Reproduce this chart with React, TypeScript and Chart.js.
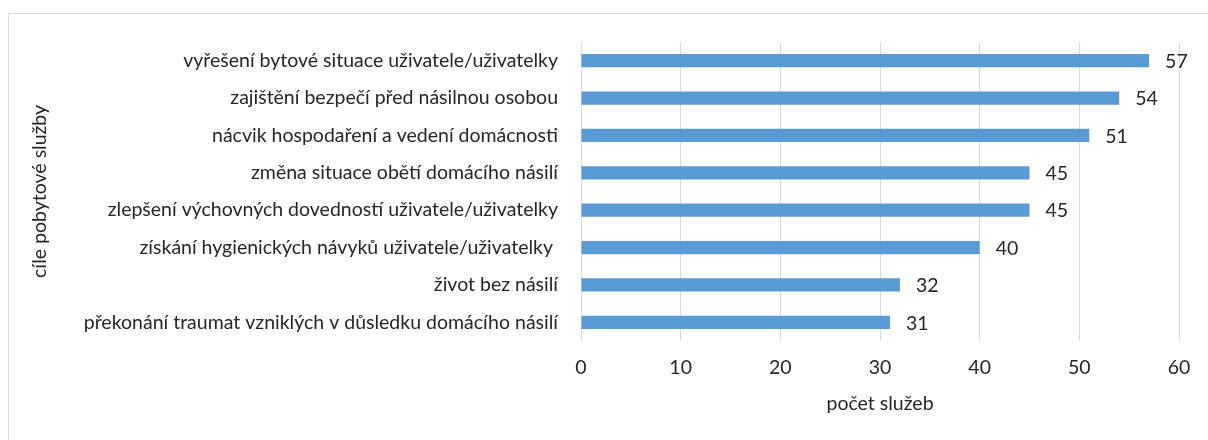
import React, { useEffect, useRef } from "react";
import { Chart, registerables } from "chart.js";

Chart.register(...registerables);

const categories = [
  "vyřešení bytové situace uživatele/uživatelky",
  "zajištění bezpečí před násilnou osobou",
  "nácvik hospodaření a vedení domácnosti",
  "změna situace obětí domácího násilí",
  "zlepšení výchovných dovedností uživatele/uživatelky",
  "získání hygienických návyků uživatele/uživatelky ",
  "život bez násilí",
  "překonání traumat vzniklých v důsledku domácího násilí",
];
const values = [57, 54, 51, 45, 45, 40, 32, 31];
const xTicks = [0, 10, 20, 30, 40, 50, 60];
const xTitle = "počet služeb";
const yTitle = "cíle pobytové služby";

const FONT = "Lato";
const SIZE = 19.5;
const TEXT = "#262626";

export default function App() {
  const ref = useRef<HTMLCanvasElement>(null);
  useEffect(() => {
    if (!ref.current) return;
    const labelPlugin = {
      id: "valueLabels",
      afterDatasetsDraw(chart: any) {
        const ctx = chart.ctx;
        const meta = chart.getDatasetMeta(0);
        ctx.save();
        ctx.font = `${SIZE}px ${FONT}`;
        ctx.fillStyle = TEXT;
        ctx.textAlign = "left";
        ctx.textBaseline = "middle";
        meta.data.forEach((el: any, i: number) => {
          ctx.fillText(String(values[i]), el.x + 16, el.y + 1);
        });
        ctx.restore();
      },
    };
    const chart = new Chart(ref.current, {
      type: "bar",
      data: {
        labels: categories,
        datasets: [
          {
            data: values,
            backgroundColor: "#5B9BD5",
            borderWidth: 0,
            barPercentage: 0.357,
            categoryPercentage: 1,
          },
        ],
      },
      plugins: [labelPlugin],
      options: {
        indexAxis: "y",
        animation: false,
        responsive: false,
        devicePixelRatio: 1,
        layout: { padding: { left: 0, top: 42, right: 29, bottom: 0 } },
        plugins: { legend: { display: false }, tooltip: { enabled: false } },
        scales: {
          x: {
            min: 0,
            max: 60,
            afterBuildTicks: (s: any) => {
              s.ticks = xTicks.map((v) => ({ value: v }));
            },
            afterFit: (s: any) => {
              s.height = 99;
            },
            grid: { color: "#d9d9d9", lineWidth: 1, drawTicks: false },
            border: { display: false },
            ticks: {
              padding: 15,
              color: TEXT,
              font: { family: FONT, size: SIZE },
            },
            title: {
              display: true,
              text: xTitle,
              color: TEXT,
              font: { family: FONT, size: SIZE },
              padding: { top: 0, bottom: 25 },
            },
          },
          y: {
            afterFit: (s: any) => {
              s.width = 581;
            },
            grid: { display: false, drawTicks: false },
            border: { display: false },
            ticks: {
              padding: 23,
              color: TEXT,
              font: { family: FONT, size: SIZE },
              autoSkip: false,
            },
            title: {
              display: true,
              text: yTitle,
              color: TEXT,
              font: { family: FONT, size: SIZE },
              padding: { top: 28, bottom: 0 },
            },
          },
        },
      },
    });
    return () => chart.destroy();
  }, []);
  return (
    <div style={{ position: "fixed", left: 0, top: 0, width: 1208, height: 440, background: "#fff", overflow: "hidden" }}>
      <div
        style={{
          position: "absolute",
          left: 8,
          top: 13,
          width: 1300,
          height: 600,
          borderLeft: "1px solid #d9d9d9",
          borderTop: "1px solid #d9d9d9",
        }}
      />
      <canvas ref={ref} width={1208} height={440} style={{ position: "absolute", left: 0, top: 0 }} />
    </div>
  );
}
